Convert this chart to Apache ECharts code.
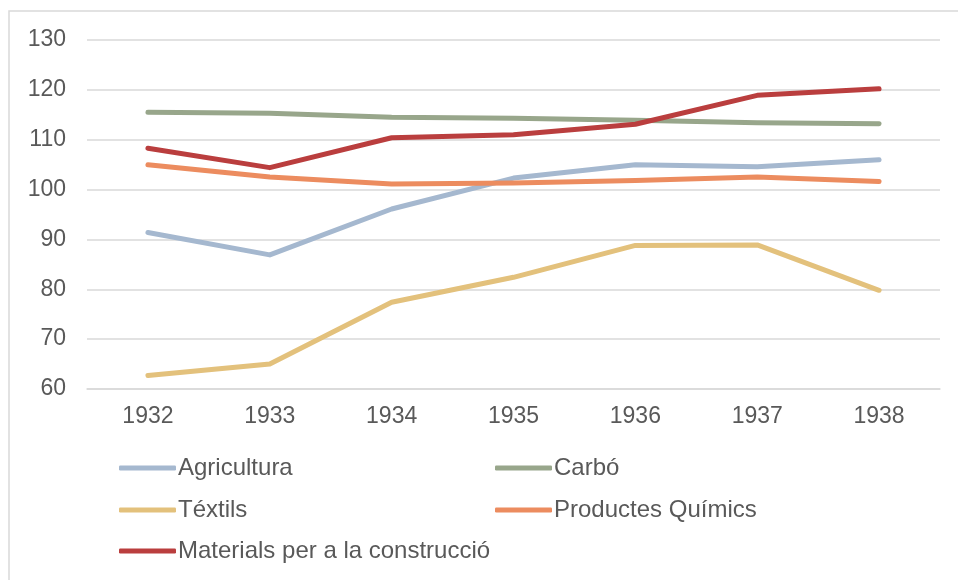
<!DOCTYPE html>
<html>
<head>
<meta charset="utf-8">
<title>Índexs de producció 1932-1938</title>
<script src="https://cdn.jsdelivr.net/npm/echarts@6/dist/echarts.min.js"></script>
<style>
  html, body { margin: 0; padding: 0; background: #fff; }
  #chart { width: 958px; height: 580px; }
</style>
</head>
<body>
<div id="chart"></div>
<script>
// anys
var years = ["1932", "1933", "1934", "1935", "1936", "1937", "1938"];

// valors llegits de la gràfica
var agricultura = [91.4, 86.9, 96.1, 102.3, 105.0, 104.6, 106.0];
var carbo = [115.5, 115.3, 114.5, 114.3, 113.9, 113.4, 113.2];
var textils = [62.7, 65.0, 77.4, 82.4, 88.8, 88.9, 79.8];
var quimics = [105.0, 102.5, 101.1, 101.3, 101.8, 102.5, 101.6];
var materials = [108.3, 104.4, 110.4, 111.0, 113.1, 118.9, 120.2];

var names = ["Agricultura", "Carbó", "Téxtils", "Productes Químics", "Materials per a la construcció"];
var colors = ["#A5B8CF", "#98A68B", "#E3C17C", "#EC8C5F", "#BA3E3E"];
var seriesData = [agricultura, carbo, textils, quimics, materials];

var myChart = echarts.init(document.getElementById("chart"));

// posicions de la llegenda (2 columnes)
var legendPos = [
  { left: 119, top: 456 },
  { left: 495, top: 456 },
  { left: 119, top: 498 },
  { left: 495, top: 498 },
  { left: 119, top: 539 }
];

var legends = names.map(function (n, i) {
  return {
    data: [n],
    left: legendPos[i].left,
    top: legendPos[i].top,
    icon: "roundRect",
    itemWidth: 57,
    itemHeight: 5,
    padding: 0,
    textStyle: {
      color: "#595959",
      fontSize: 24,
      fontFamily: "Liberation Sans",
      padding: [0, 0, 0, -3]
    }
  };
});

var option = {
  backgroundColor: "#fff",
  animation: false,
  color: colors,
  graphic: [
    {
      type: "rect",
      shape: { x: 9, y: 11, width: 960, height: 580 },
      style: { fill: "none", stroke: "#D9D9D9", lineWidth: 1.5 },
      silent: true
    }
  ],
  legend: legends,
  grid: {
    left: 87,
    right: 18,
    top: 40,
    bottom: 191
  },
  xAxis: {
    type: "category",
    data: years,
    boundaryGap: true,
    axisLine: { show: true, lineStyle: { color: "#D9D9D9", width: 1.5 } },
    axisTick: { show: false },
    axisLabel: {
      color: "#595959",
      fontSize: 23,
      fontFamily: "Liberation Sans",
      margin: 16
    }
  },
  yAxis: {
    type: "value",
    min: 60,
    max: 130,
    interval: 10,
    axisLine: { show: false },
    axisTick: { show: false },
    splitLine: { lineStyle: { color: "#D9D9D9", width: 1.5 } },
    axisLabel: {
      color: "#595959",
      fontSize: 23,
      fontFamily: "Liberation Sans",
      margin: 21
    }
  },
  series: names.map(function (n, i) {
    return {
      name: n,
      type: "line",
      data: seriesData[i],
      symbol: "none",
      smooth: false,
      lineStyle: { width: 5, color: colors[i], cap: "round", join: "round" },
      itemStyle: { color: colors[i] }
    };
  })
};

myChart.setOption(option);
</script>
</body>
</html>
